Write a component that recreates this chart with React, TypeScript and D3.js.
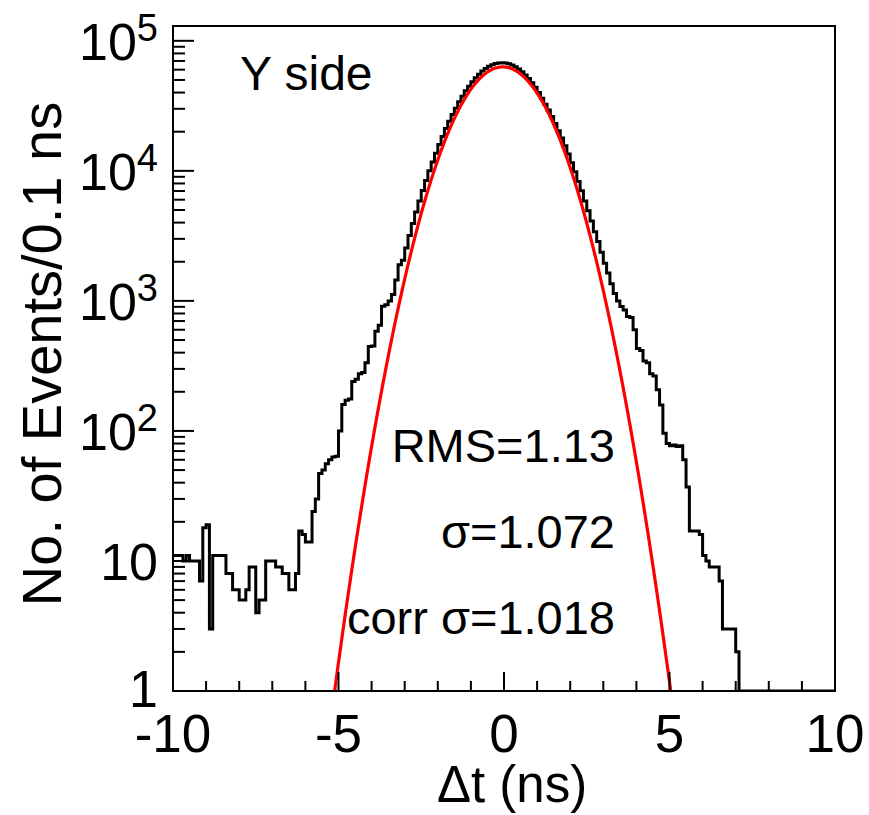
import React from "react";
import * as d3 from "d3";

const W = 869;
const H = 815;

// ---- data ----
const xDomain: [number, number] = [-10, 10];
const yDomain: [number, number] = [1, 1.3e5];
const binWidth = 0.1;

// counts per 0.1 ns bin, from -10 ns to +10 ns (200 bins)
const counts: number[] = [
  11, 11, 11, 10, 11, 10, 10, 10, 7, 18,
  19, 3, 11, 11, 11, 11, 8, 8, 6, 6,
  5, 5, 6, 9, 9, 4, 5, 5, 10, 10,
  10, 9, 9, 8, 8, 6, 6, 8, 17, 16,
  14, 14, 24, 30, 47, 50, 56, 60, 63, 64,
  100, 160, 172, 176, 240, 250, 275, 282, 335, 445,
  450, 585, 650, 910, 935, 1000, 1120, 1450, 1900, 2050,
  2550, 3190, 3940, 4820, 5860, 7060, 8430, 10000, 11720, 13650,
  15920, 18410, 21130, 24050, 27160, 30340, 34040, 37410, 41300, 44670,
  48420, 52000, 55340, 58480, 61240, 63680, 65460, 66830, 67610, 67920,
  67600, 66680, 65160, 63240, 60810, 57940, 54700, 51290, 47640, 43850,
  40090, 36220, 32580, 29310, 26180, 23120, 20320, 17870, 15600, 13490,
  11560, 9840, 8300, 7020, 5870, 4940, 4120, 3400, 2860, 2370,
  1950, 1640, 1355, 1140, 1000, 905, 850, 760, 745, 600,
  430, 415, 345, 335, 275, 265, 207, 158, 96, 80,
  77, 78, 76, 77, 60, 37, 17, 17, 17, 16,
  11, 10, 9, 9, 9, 7, 3, 3, 3, 3,
  2, 0, 0, 0, 0, 0, 0, 0, 0, 0,
  0, 0, 0, 0, 0, 0, 0, 0, 0, 0,
  0, 0, 0, 0, 0, 0, 0, 0, 0, 0,
];

// Gaussian fit parameters
const fitAmplitude = 6.3e4;
const fitMean = -0.04;
const fitSigma = 1.08;

const xMajorTicks = [-10, -5, 0, 5, 10];
const xMinorTicks = d3.range(-10, 11, 1);
const yDecades = [0, 1, 2, 3, 4, 5];
const statLines = ["RMS=1.13", "σ=1.072", "corr σ=1.018"];
const panelLabel = "Y side";
const xTitle = "Δt (ns)";
const yTitle = "No. of Events/0.1 ns";

// ---- layout ----
const frame = { left: 173, right: 835, top: 26, bottom: 691 };
const FONT = "'Liberation Sans', Arial, Helvetica, sans-serif";

export default function App() {
  const x = d3.scaleLinear().domain(xDomain).range([frame.left, frame.right]);
  const y = d3.scaleLog().domain(yDomain).range([frame.bottom, frame.top]);

  const yOf = (v: number) => (v <= yDomain[0] ? frame.bottom : y(v));

  const pts: [number, number][] = counts.map((c, i) => [
    x(xDomain[0] + i * binWidth),
    yOf(c),
  ]);
  pts.push([x(xDomain[0] + counts.length * binWidth), yOf(counts[counts.length - 1])]);
  const histPath = d3.line().curve(d3.curveStepAfter)(pts) || "";

  const fitPts: [number, number][] = d3.range(-6, 6.0001, 0.02).map((v) => {
    const val =
      fitAmplitude * Math.exp(-((v - fitMean) ** 2) / (2 * fitSigma * fitSigma));
    return [x(v), y(Math.max(val, 1e-3))];
  });
  const fitPath = d3.line()(fitPts) || "";

  const yMinor: number[] = [];
  for (const k of yDecades) {
    for (let m = 2; m <= 9; m++) {
      const v = m * Math.pow(10, k);
      if (v <= yDomain[1]) yMinor.push(v);
    }
  }

  return (
    <svg
      width={W}
      height={H}
      style={{ position: "absolute", left: 0, top: 0, background: "#fff" }}
      fontFamily={FONT}
    >
      <defs>
        <clipPath id="frameClip">
          <rect
            x={frame.left}
            y={frame.top}
            width={frame.right - frame.left}
            height={frame.bottom - frame.top}
          />
        </clipPath>
      </defs>
      <rect x={0} y={0} width={W} height={H} fill="#fff" />

      <g clipPath="url(#frameClip)">
        <path d={histPath} fill="none" stroke="#000" strokeWidth={3} />
        <path d={fitPath} fill="none" stroke="#ff0000" strokeWidth={3.2} />
      </g>

      {/* frame */}
      <rect
        x={frame.left}
        y={frame.top}
        width={frame.right - frame.left}
        height={frame.bottom - frame.top}
        fill="none"
        stroke="#000"
        strokeWidth={2}
      />

      {/* x ticks */}
      {xMinorTicks.map((t) => {
        const major = xMajorTicks.includes(t);
        return (
          <line
            key={"xt" + t}
            x1={x(t)}
            x2={x(t)}
            y1={frame.bottom}
            y2={frame.bottom - (major ? 19 : 10)}
            stroke="#000"
            strokeWidth={2}
          />
        );
      })}
      {xMajorTicks.map((t) => (
        <text
          key={"xl" + t}
          x={x(t)}
          y={752}
          fontSize={53}
          textAnchor="middle"
          fill="#000"
        >
          {String(t)}
        </text>
      ))}

      {/* y ticks */}
      {yDecades.map((k) => (
        <line
          key={"ymaj" + k}
          x1={frame.left}
          x2={frame.left + 21}
          y1={y(Math.pow(10, k))}
          y2={y(Math.pow(10, k))}
          stroke="#000"
          strokeWidth={2}
        />
      ))}
      {yMinor.map((v) => (
        <line
          key={"ymin" + v}
          x1={frame.left}
          x2={frame.left + 12}
          y1={y(v)}
          y2={y(v)}
          stroke="#000"
          strokeWidth={2}
        />
      ))}
      {yDecades.map((k) => {
        const ty = y(Math.pow(10, k));
        if (k === 0)
          return (
            <text key={"yl" + k} x={158} y={ty + 16} fontSize={52} textAnchor="end">
              1
            </text>
          );
        if (k === 1)
          return (
            <text key={"yl" + k} x={158} y={ty + 19} fontSize={52} textAnchor="end">
              10
            </text>
          );
        return (
          <text key={"yl" + k} x={158} y={ty + 19} fontSize={52} textAnchor="end">
            10
            <tspan fontSize={38} dy={-19}>
              {String(k)}
            </tspan>
          </text>
        );
      })}

      {/* axis titles */}
      <text x={512} y={802} fontSize={51} textAnchor="middle">
        {xTitle}
      </text>
      <text
        transform={`translate(61, 354) rotate(-90)`}
        fontSize={56}
        textAnchor="middle"
      >
        {yTitle}
      </text>

      {/* labels */}
      <text x={240} y={90} fontSize={48}>
        {panelLabel}
      </text>
      {statLines.map((s, i) => (
        <text key={s} x={615} y={462 + i * 86} fontSize={47} textAnchor="end">
          {s}
        </text>
      ))}
    </svg>
  );
}
